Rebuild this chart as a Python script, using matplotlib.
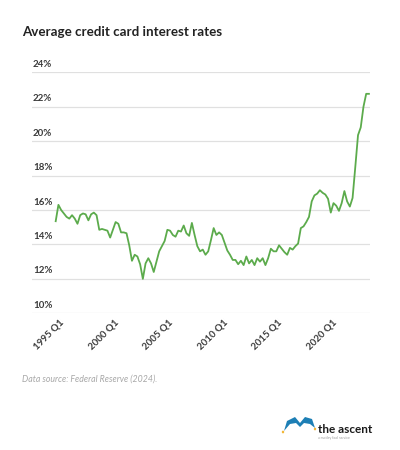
"""Average credit card interest rates, quarterly 1995-2023."""

import matplotlib.pyplot as plt
import matplotlib.transforms as mtransforms
from matplotlib.patches import Circle, PathPatch
from matplotlib.path import Path

# quarterly rate (%), 1995 Q1 .. 2023 Q4
rates = [
    15.35, 16.3, 16.0, 15.8, 15.6, 15.5, 15.7, 15.5, 15.2, 15.7, 15.8, 15.75,
    15.4, 15.75, 15.85, 15.7,
    14.85, 14.9, 14.85, 14.8, 14.4, 14.85, 15.3, 15.2, 14.7, 14.7, 14.65, 13.95,
    13.05, 13.4, 13.3, 12.85, 12.0,
    12.9, 13.2, 12.9, 12.4, 13.0, 13.6, 13.9, 14.2, 14.85, 14.8, 14.55, 14.45,
    14.8, 14.75, 15.1, 14.65, 14.5, 15.25, 14.55, 13.9, 13.6, 13.7, 13.4, 13.6,
    14.25, 14.95, 14.55, 14.7, 14.55, 14.1,
    13.65, 13.4, 13.1, 13.1, 12.85, 13.05, 12.8, 13.3, 12.9, 13.1, 12.8, 13.2,
    13.0, 13.2, 12.8, 13.2, 13.75, 13.6, 13.6, 13.95, 13.75, 13.55, 13.4, 13.8,
    13.7, 13.9, 14.05, 14.95, 15.05, 15.3, 15.6,
    16.5, 16.85, 16.95, 17.15, 17.0, 16.9, 16.65, 15.85, 16.4, 16.25, 15.95,
    16.4, 17.1, 16.5, 16.2, 16.7, 18.5, 20.35, 20.8, 22.0, 22.75, 22.75,
]
tick_pos = [0, 20, 40, 60, 80, 100]
tick_labels = ["1995 Q1", "2000 Q1", "2005 Q1", "2010 Q1", "2015 Q1", "2020 Q1"]
y_ticks = [10, 12, 14, 16, 18, 20, 22, 24]

plt.rcParams["font.family"] = ["Lato", "DejaVu Sans"]

fig = plt.figure(figsize=(4, 4.5), dpi=100)
ax = fig.add_axes([0.08, 0.3038, 0.845, 0.5355])

ax.plot(range(len(rates)), rates, color="#5cab4c", lw=1.3, solid_joinstyle="round")
ax.set_xlim(-8.7, 115.4)
ax.set_ylim(10, 24)

for s in ax.spines.values():
    s.set_visible(False)

ax.set_yticks(y_ticks)
ax.grid(axis="y", color="#e0e0e0", lw=0.9)
ax.tick_params(axis="y", length=0, labelleft=False)
for v in y_ticks:
    ax.annotate(f"{v}%", xy=(0.003, v), xycoords=ax.get_yaxis_transform(),
                xytext=(0, 2.5), textcoords="offset points",
                ha="left", va="bottom", fontsize=7, fontweight="bold",
                color="#3a3a3a")

ax.set_xticks(tick_pos, tick_labels)
ax.tick_params(axis="x", length=0, pad=3)
shift = mtransforms.ScaledTranslation(4 / 100, 0, fig.dpi_scale_trans)
for lbl in ax.get_xticklabels():
    lbl.set_rotation(45)
    lbl.set_ha("right")
    lbl.set_rotation_mode("anchor")
    lbl.set_fontsize(7)
    lbl.set_fontweight("bold")
    lbl.set_color("#3a3a3a")
    lbl.set_transform(lbl.get_transform() + shift)

fig.text(22 / 400, 1 - 36 / 450, "Average credit card interest rates",
         fontsize=9.6, fontweight="bold", color="#222222", ha="left", va="baseline")
fig.text(22 / 400, 1 - 382 / 450, "Data source: Federal Reserve (2024).",
         fontsize=6.3, style="italic", color="#a8a8a8", ha="left", va="baseline")

# logo
logo = [(284, 431), (287, 421), (295, 417), (300, 423), (305, 417), (312, 419),
        (315, 428), (310, 424), (304, 423), (300, 427), (296, 423), (290, 424),
        (284, 431)]
verts = [(x / 400, 1 - y / 450) for x, y in logo]
fig.patches.append(PathPatch(Path(verts), transform=fig.transFigure,
                             facecolor="#1d7fb5", edgecolor="none"))
for cx, cy in [(283, 432), (315, 429)]:
    fig.patches.append(Circle((cx / 400, 1 - cy / 450), 1.2 / 400,
                              transform=fig.transFigure, facecolor="#f2b534",
                              edgecolor="none"))
fig.text(318 / 400, 1 - 433 / 450, "the ascent", fontsize=8.5,
         fontweight="bold", color="#1a1a1a", ha="left", va="baseline")
fig.text(318 / 400, 1 - 439 / 450, "a motley fool service", fontsize=2.5,
         color="#9a9a9a", ha="left", va="baseline")

fig.savefig("out.png", dpi=100, facecolor="white")
